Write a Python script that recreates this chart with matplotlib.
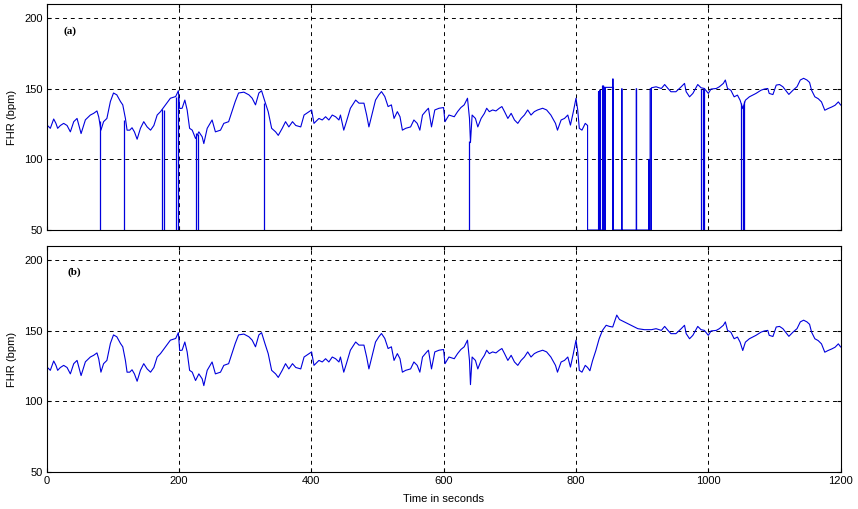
"""
Fetal heart rate trace: (a) raw recording with signal dropouts,
(b) the same trace after artefact removal.
"""

import numpy as np
import matplotlib
matplotlib.use("Agg")
import matplotlib.pyplot as plt

# ── Data ────────────────────────────────────────────────────────────────────
# cleaned trace (panel b), seconds / bpm
t_clean = [
    0.5, 5.5, 10.6, 14, 16.6, 20.7, 25.7, 30.8, 35.8, 40.9, 45.9, 52, 58.5,
    66, 71, 76, 78.7, 82, 86, 91, 96.3, 101, 106, 111.5, 115, 119, 121.5,
    125.5, 129, 132.6, 136.7, 141.7, 146.7, 151.8, 157, 162, 167, 172, 179.5,
    187, 195, 199, 201, 204.7, 208.8, 212.3, 216, 220, 225, 230, 235, 237.5,
    242.6, 250, 255, 262.7, 267.7, 275, 280, 285, 290, 298, 305.6, 310.6,
    315.6, 320.7, 324.8, 329.8, 334.8, 340, 346, 350, 356, 361, 366, 371.5,
    376.5, 384, 389, 396.5, 400.4, 404, 411.5, 416.5, 421.5, 426.5, 431.6,
    436.6, 441.7, 444, 449, 453, 459, 467, 472, 479.5, 483.6, 487, 492, 497,
    502, 506, 511, 516, 521, 525, 530, 534, 537.6, 542.6, 550, 555, 560, 564,
    568, 574.5, 577, 581.6, 586.6, 593, 599.8, 602, 608, 616, 621, 626, 631,
    636, 639, 640.5, 643, 648, 651.6, 656.6, 661.6, 665, 669, 674, 679, 684,
    688, 692, 697, 702, 707, 712, 717, 722, 727, 732, 737, 742, 749.6, 755.6,
    762, 769, 772, 777.5, 782.6, 787.6, 791.6, 796, 800, 802.6, 805, 809,
    814, 817.5, 821, 825, 830, 835, 840, 845.6, 850.5, 855.5, 861.6, 865.7,
    873, 883, 893.5, 903.5, 914, 921, 929, 934, 939, 943.5, 951, 959, 964,
    966.5, 971.6, 976.6, 984, 989, 994, 1000, 1004, 1012, 1016.6, 1022.7,
    1025.7, 1029, 1034, 1039, 1044, 1048, 1052, 1056, 1062, 1067, 1072,
    1079.7, 1084.7, 1089.8, 1092, 1097.6, 1102.6, 1107.6, 1112.7, 1116.7,
    1121.7, 1128, 1134, 1139, 1144, 1149, 1153, 1156, 1161, 1166, 1171, 1176,
    1181, 1186.5, 1191.5, 1196.5, 1200,
]
fhr_clean = [
    124.3, 122, 128.6, 125.5, 122, 124, 125.5, 124, 119.5, 126.7, 129, 118.3,
    128, 131.4, 132.6, 134.3, 130, 120.7, 126.7, 129, 141, 147, 145.7, 141,
    138.6, 129, 120.7, 120.7, 122.4, 119.5, 114.3, 122, 126.7, 123, 120.7,
    124, 131.4, 133.8, 138.6, 143.3, 144.5, 148.6, 136, 136.2, 142, 135, 122,
    120.7, 114.8, 119.5, 116, 111.2, 122, 127.9, 119.5, 120.7, 125.5, 126.7,
    133.8, 141, 147, 147.6, 145.7, 143.3, 138.6, 147, 148.6, 141, 133.8, 122,
    119.5, 117, 122, 126.7, 123, 126.7, 124, 123, 131.4, 133.8, 135, 125.5,
    129, 127.9, 130.2, 127.9, 131.4, 130.2, 127.9, 131.4, 120.7, 126.7,
    136.2, 142, 139.8, 139.8, 131.4, 123, 132.6, 142, 145.7, 148, 144.5,
    137.4, 138.6, 129, 133.8, 130.2, 120.7, 122, 123, 127.9, 125.5, 120.7,
    131.4, 135, 136.2, 123, 135, 136.2, 136.7, 126.7, 131.4, 130.2, 133.8,
    136.7, 138.6, 143.3, 129, 111.9, 131.4, 129, 123, 129, 132.6, 136.2,
    133.8, 135, 134.3, 136.2, 137.4, 133.8, 129, 132.6, 127.9, 125.5, 129,
    131.4, 135, 131.4, 133.8, 135, 136.2, 135, 131.4, 125.5, 120.7, 127.9,
    129, 131.4, 124.3, 133.8, 143.3, 135, 122, 120.7, 125.5, 124, 121.7,
    128.8, 136, 144.3, 150.2, 153.8, 153, 152.6, 161, 157.9, 156.2, 153.8,
    151.4, 150.7, 150.7, 151.4, 150.2, 153, 150.2, 147.9, 147.9, 151.4,
    153.8, 147.9, 144.3, 146.7, 153, 150.7, 150.2, 146.7, 149.8, 150.2,
    151.4, 153.8, 156.2, 150.2, 149, 144.3, 145.5, 141.9, 136, 141.9, 144.3,
    145.5, 146.7, 149, 149.8, 150.2, 146.7, 145.9, 152.6, 153, 151.4, 149,
    146, 149, 151.4, 156.2, 157.4, 156.2, 154.5, 149, 144.3, 143, 140.7,
    134.8, 136, 137.1, 138.3, 140.7, 138.5,
]

# raw trace (panel a): lost-signal stretch, signal sits at 50 bpm
# apart from short bursts of valid samples
gap_start, gap_end = 817.5, 914
burst_start = [834, 836, 840, 842.5, 844.5, 855.5, 869, 891, 910, 912]
burst_len = [0.6, 0.6, 1.8, 1.3, 11.0, 0.5, 0.6, 0.6, 0.6, 2.0]
burst_fhr = [148, 149, 152, 151, 151, 157, 150, 150, 100, 150]

# single-sample dropouts to 50 bpm elsewhere in the raw trace
drop_t = [80, 117, 175, 178, 195, 198, 226, 228, 329, 638.5,
          989, 991.5, 994, 1049.5, 1052, 1054.5]
drop_top = [127, 128, 136, 135, 144, 145, 119, 118, 140, 113,
            150, 150, 150, 140, 138, 141]

x_ticks = [0, 200, 400, 600, 800, 1000, 1200]
y_ticks = [50, 100, 150, 200]

LINE = "#0000dd"


def raw_trace():
    """Stitch the raw trace: clean trace outside the gap, bursts inside."""
    t = np.asarray(t_clean)
    v = np.asarray(fhr_clean)
    before = t <= gap_start
    after = t >= gap_end
    ts = list(t[before]) + [gap_start]
    vs = list(v[before]) + [50]
    for s, w, f in zip(burst_start, burst_len, burst_fhr):
        ts += [s, s, s + w, s + w]
        vs += [50, f, f, 50]
    ts += list(t[after])
    vs += list(v[after])
    return np.array(ts), np.array(vs)


def style_axes(ax, show_xlabels):
    ax.set_xlim(0, 1200)
    ax.set_ylim(50, 210)
    ax.set_xticks(x_ticks)
    ax.set_yticks(y_ticks)
    ax.grid(True, color="k", linestyle=(0, (4, 4)), linewidth=0.7)
    ax.tick_params(direction="in", length=3, top=True, right=True,
                   labelsize=8, pad=3)
    if not show_xlabels:
        ax.tick_params(labelbottom=False)
    for sp in ax.spines.values():
        sp.set_linewidth(0.8)
    ax.set_ylabel("FHR (bpm)", fontsize=8)
    ax.yaxis.set_label_coords(-0.038, 0.5)


def main():
    plt.rcParams["font.family"] = ["Liberation Sans", "DejaVu Sans"]

    fig = plt.figure(figsize=(8.58, 5.09), dpi=100)
    ax_a = fig.add_axes([0.0544, 0.5481, 0.9254, 0.4440])
    ax_b = fig.add_axes([0.0544, 0.0721, 0.9254, 0.4452])

    # ── (a) raw ─────────────────────────────────────────────────────────────
    ta, va = raw_trace()
    ax_a.plot(ta, va, color=LINE, linewidth=0.8)
    ax_a.vlines(drop_t, 50, drop_top, color=LINE, linewidth=0.9)
    style_axes(ax_a, show_xlabels=False)
    ax_a.text(25, 191, "(a)", fontsize=8, fontweight="bold",
              family="Liberation Serif", va="center", ha="left")

    # ── (b) cleaned ─────────────────────────────────────────────────────────
    ax_b.plot(t_clean, fhr_clean, color=LINE, linewidth=0.8)
    style_axes(ax_b, show_xlabels=True)
    ax_b.text(32, 191, "(b)", fontsize=8, fontweight="bold",
              family="Liberation Serif", va="center", ha="left")
    ax_b.set_xlabel("Time in seconds", fontsize=8)
    ax_b.xaxis.set_label_coords(0.5, -0.095)

    fig.savefig("out.png", dpi=100)
    plt.close(fig)


if __name__ == "__main__":
    main()
